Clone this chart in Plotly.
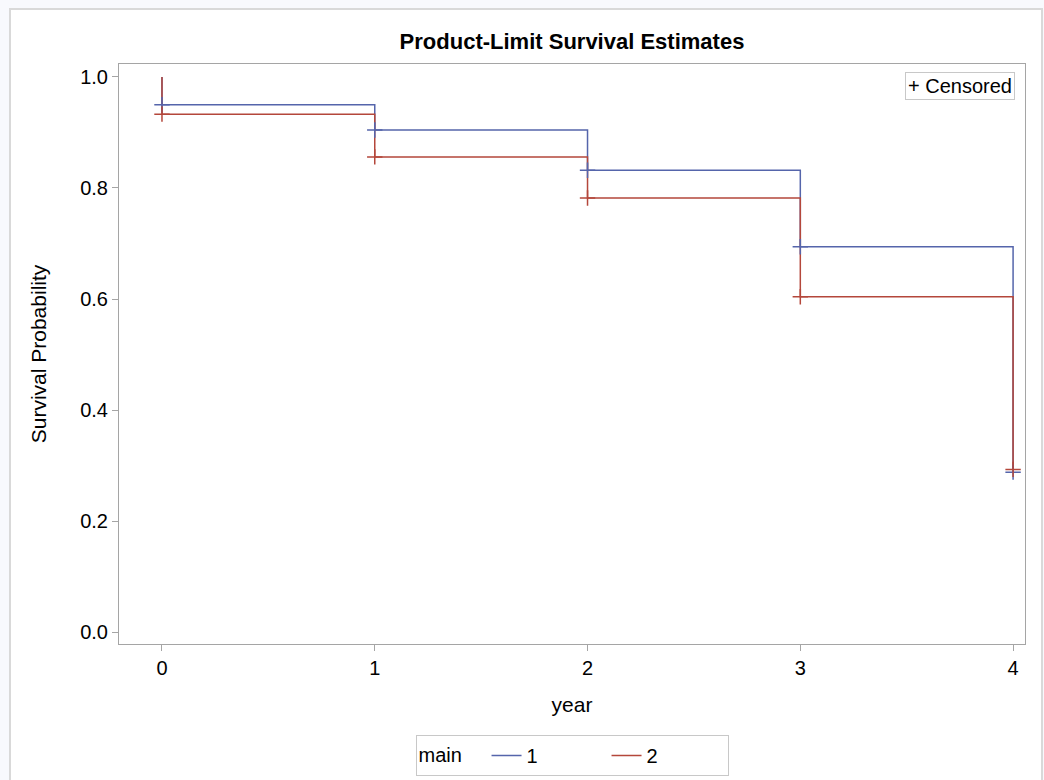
import plotly.graph_objects as go

# Data
years = [0, 1, 2, 3, 4]
surv_main1 = [0.950, 0.9045, 0.832, 0.694, 0.288]
surv_main2 = [0.933, 0.856, 0.782, 0.604, 0.293]
start_prob = 1.0
group_names = ["1", "2"]
x_ticks = [0, 1, 2, 3, 4]
y_ticks = [0.0, 0.2, 0.4, 0.6, 0.8, 1.0]

blue = "#5565AB"
red = "#B4473B"
font_family = "Liberation Sans, Arial, sans-serif"

fig = go.Figure()

for name, vals, col in [(group_names[0], surv_main1, blue), (group_names[1], surv_main2, red)]:
    xs = [years[0]] + years
    ys = [start_prob] + vals
    fig.add_trace(go.Scatter(
        x=xs, y=ys, mode="lines", line=dict(color=col, width=1.5, shape="hv"),
        name=name, legend="legend", showlegend=True, hoverinfo="skip"))

for vals, col in [(surv_main1, blue), (surv_main2, red)]:
    fig.add_trace(go.Scatter(
        x=years, y=vals, mode="markers",
        marker=dict(symbol="cross-thin", size=11, color=col, line=dict(color=col, width=1.5)),
        showlegend=False, hoverinfo="skip"))

fig.update_layout(
    width=1044, height=780,
    margin=dict(l=119, r=19, t=64, b=136),
    paper_bgcolor="#F8F9FD",
    plot_bgcolor="white",
    font=dict(family=font_family, size=20, color="black"),
    title=dict(text="<b>Product-Limit Survival Estimates</b>", x=0.5, xref="paper",
               xanchor="center", y=1 - 41 / 780, yanchor="middle",
               font=dict(size=22, family=font_family)),
    xaxis=dict(range=[-0.202, 4.056], tickvals=x_ticks, ticktext=[str(v) for v in x_ticks],
               showline=True, mirror=True, linecolor="#A5A5A5", linewidth=1,
               ticks="outside", ticklen=6, tickcolor="#A5A5A5",
               showgrid=False, zeroline=False,
               title=dict(text="year", font=dict(size=21), standoff=19),
               tickfont=dict(size=20)),
    yaxis=dict(range=[-0.0216, 1.0234], tickvals=y_ticks, ticktext=[f"{v:.1f}" for v in y_ticks],
               showline=True, mirror=True, linecolor="#A5A5A5", linewidth=1,
               ticks="outside", ticklen=6, tickcolor="#A5A5A5",
               showgrid=False, zeroline=False,
               title=dict(text="Survival Probability", font=dict(size=21), standoff=27),
               tickfont=dict(size=20)),
    legend=dict(orientation="h", x=0.5, xanchor="center",
                yref="container", y=(780 - 735) / 780, yanchor="top",
                title=dict(text="main   ", font=dict(size=20)),
                bordercolor="#C8C8C8", borderwidth=1, bgcolor="white",
                font=dict(size=20), entrywidth=75, entrywidthmode="pixels",
                tracegroupgap=0, itemwidth=30),
    shapes=[dict(type="rect", xref="paper", yref="paper",
                 x0=(10 - 119) / 906, x1=(1042 - 119) / 906,
                 y0=-0.3, y1=1 + (64 - 9) / 580,
                 line=dict(color="#D9D9D9", width=2), fillcolor="white", layer="below")],
    annotations=[dict(text="+ Censored", xref="paper", yref="paper",
                      x=(1015 - 119) / 906, xanchor="right",
                      y=(644 - 72) / 580, yanchor="top", showarrow=False,
                      font=dict(size=20, family=font_family, color="black"),
                      bordercolor="#C8C8C8", borderwidth=1, borderpad=2, bgcolor="white")],
)

fig.write_html("out.html", config={"displayModeBar": False},
               post_script="document.body.style.margin='0';document.body.style.background='#F8F9FD';")
